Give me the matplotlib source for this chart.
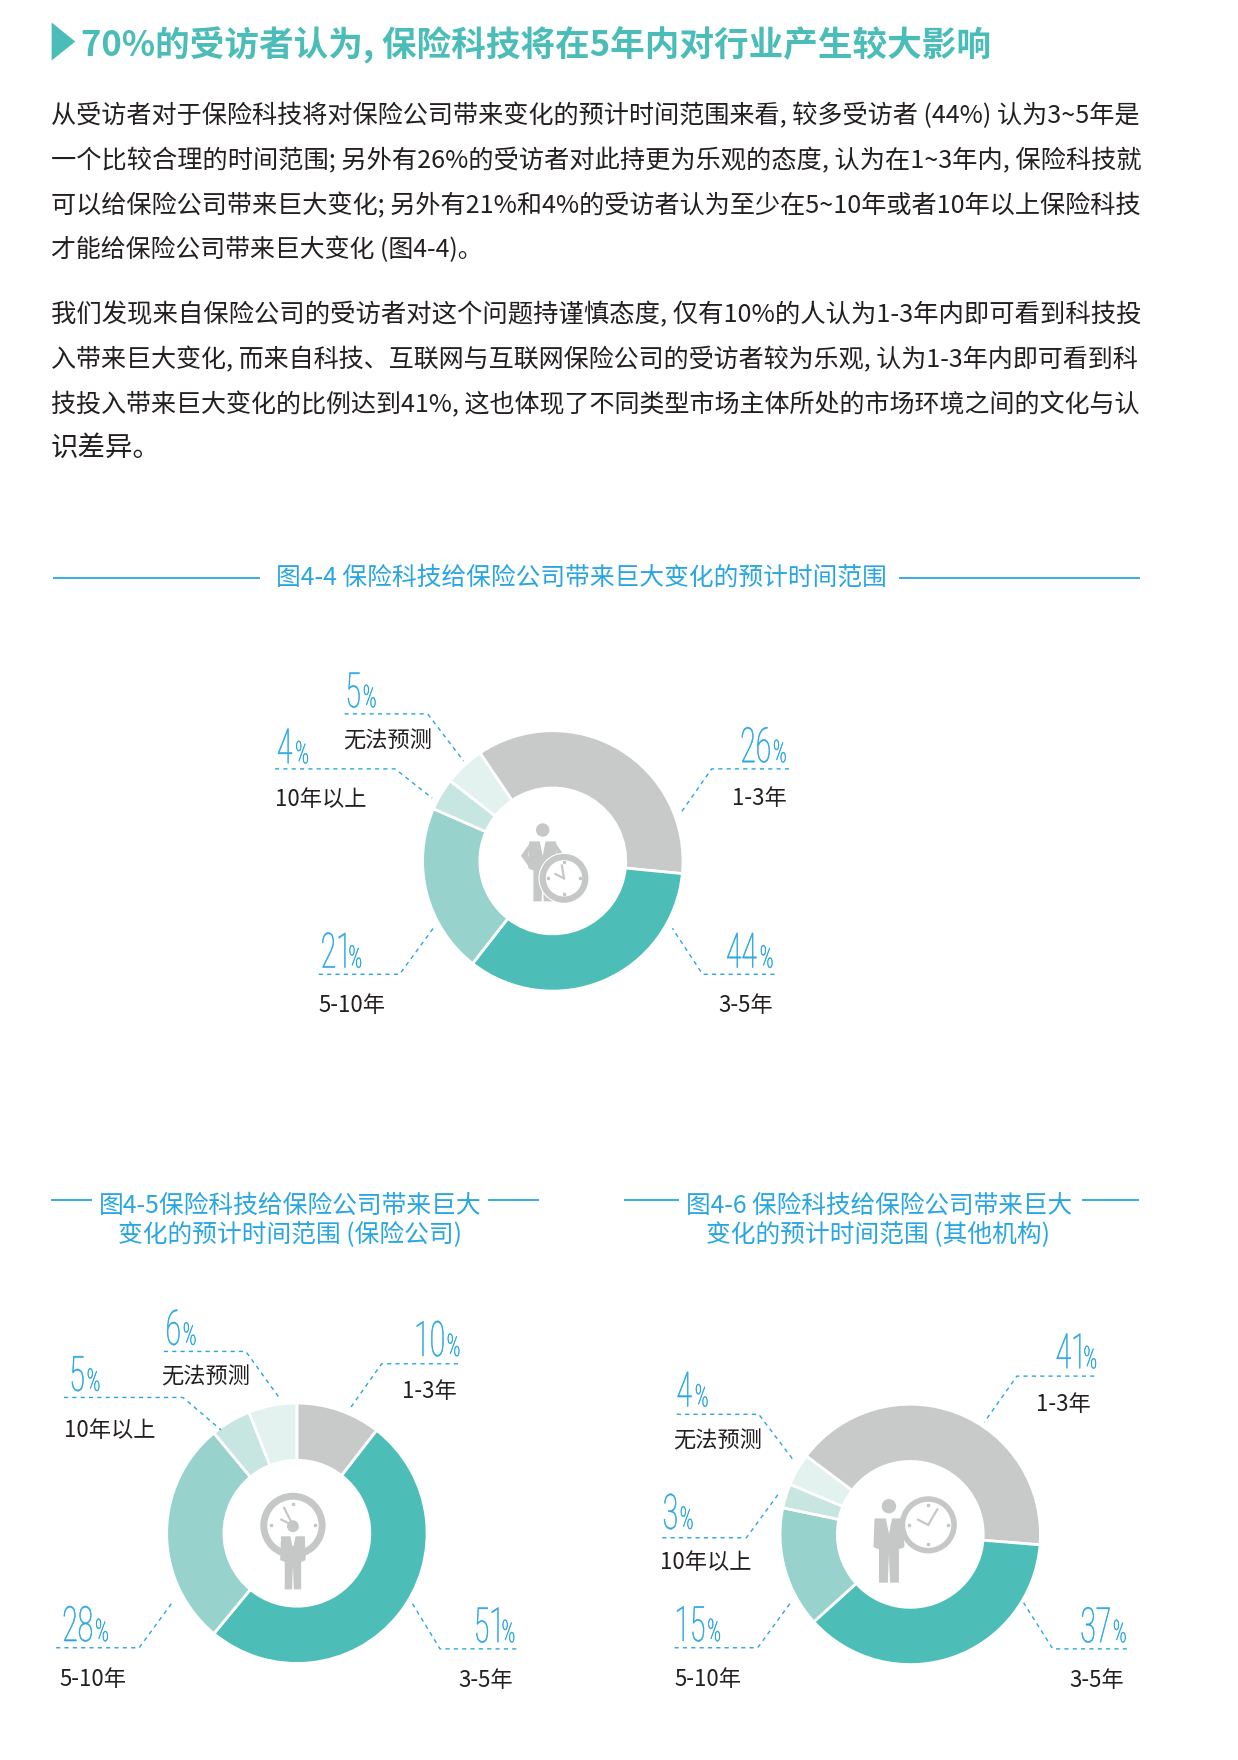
import matplotlib
matplotlib.use('Agg')
import matplotlib.pyplot as plt
from matplotlib.patches import Circle, Polygon, PathPatch
from matplotlib.path import Path
from matplotlib.text import Text
from matplotlib.textpath import TextPath
from matplotlib.transforms import Affine2D

plt.rcParams['font.family'] = ['Noto Sans CJK SC', 'DejaVu Sans']

# colours
TEAL = '#4bbdb8'
BLUE = '#29a6e1'
TEXT = '#231f20'
GRAY = '#c6c8c8'
SLICE_COLORS = ['#c8cac9', '#4dbdb8', '#97d2cd', '#c7e6e2', '#e3f1ef']

# data
categories = ['1-3年', '3-5年', '5-10年', '10年以上', '无法预测']
labels_all = ['26', '44', '21', '4', '5']
labels_ins = ['10', '51', '28', '5', '6']
labels_oth = ['41', '37', '15', '3', '4']
# drawn slice sizes, the first ring is not drawn as its printed numbers say
shares_all = [36, 34, 21, 4, 5]
shares_ins = [10.5, 50.5, 28, 5, 6]
shares_oth = [41, 37, 15, 3, 4]

heading = '70%的受访者认为, 保险科技将在5年内对行业产生较大影响'
body = [
    ('从受访者对于保险科技将对保险公司带来变化的预计时间范围来看, 较多受访者 (44%) 认为3~5年是', 1016, 102),
    ('一个比较合理的时间范围; 另外有26%的受访者对此持更为乐观的态度, 认为在1~3年内, 保险科技就', 1016, 142),
    ('可以给保险公司带来巨大变化; 另外有21%和4%的受访者认为至少在5~10年或者10年以上保险科技', 1016, 182),
    ('才能给保险公司带来巨大变化 (图4-4)。', 430, 221),
    ('我们发现来自保险公司的受访者对这个问题持谨慎态度, 仅有10%的人认为1-3年内即可看到科技投', 1016, 279),
    ('入带来巨大变化, 而来自科技、互联网与互联网保险公司的受访者较为乐观, 认为1-3年内即可看到科', 1016, 319),
    ('技投入带来巨大变化的比例达到41%, 这也体现了不同类型市场主体所处的市场环境之间的文化与认', 1016, 359),
    ('识差异。', 143, 398),
]

W, H = 1103, 1568
fig = plt.figure(figsize=(12.38, 17.6), dpi=100, facecolor='white')


class CondensedPercent(Text):
    # no condensed light font is installed, so squeeze the glyph outlines;
    # the string is like '26%', the sign is set smaller than the digits
    squeeze = 0.58
    sign_ratio = 0.64

    def _outline(self):
        size = self.get_fontsize()
        prop = self.get_fontproperties()
        digits = TextPath((0, 0), self.get_text()[:-1], size=size, prop=prop)
        sign = TextPath((digits.get_extents().x1 + 0.12 * size, 0), '%', size=size * self.sign_ratio, prop=prop)
        return Path.make_compound_path(digits, sign)

    def _to_px(self):
        x, y = self.get_transform().transform(self.get_position())
        k = self.get_figure().dpi / 72
        return Affine2D().scale(self.squeeze * k, k).translate(x, y)

    def get_window_extent(self, renderer=None, dpi=None):
        return self._outline().get_extents(self._to_px())

    def draw(self, renderer):
        patch = PathPatch(self._outline(), transform=self._to_px(), fc=self.get_color(),
                          ec=self.get_color(), lw=0.4)
        patch.set_figure(self.get_figure())
        patch.draw(renderer)


def donut(cx, cy, shares, start, r=116, r_in=65):
    pad = 1.05
    ax = fig.add_axes([(cx - r * pad) / W, 1 - (cy + r * pad) / H, 2 * r * pad / W, 2 * r * pad / H])
    ax.pie(shares, colors=SLICE_COLORS, startangle=start, counterclock=False, radius=1,
           wedgeprops=dict(width=1 - r_in / r, edgecolor='white', linewidth=2))
    ax.set_xlim(-pad, pad)
    ax.set_ylim(-pad, pad)
    ax.axis('off')


donut(492.5, 767, shares_all, 124)
donut(264.5, 1366, shares_ins, 90)
donut(811, 1367, shares_oth, 143)

# page coordinates, same as the reference
pg = fig.add_axes([0, 0, 1, 1], facecolor='none')
pg.set_xlim(0, W)
pg.set_ylim(H, 0)
pg.axis('off')
renderer = fig.canvas.get_renderer()


def fit_text(x0, x1, y, s, color=TEXT, fs=17, **kw):
    t = pg.text(x0, y + 1.5, s, color=color, fontsize=fs, va='center', ha='left', **kw)
    w = t.get_window_extent(renderer).width
    t.set_fontsize(fs * (x1 - x0) * 1238 / W / w)
    return t


def rule(x0, x1, y):
    pg.plot([x0, x1], [y, y], color=BLUE, lw=1.3, solid_capstyle='butt')


def callout(value, cat, pts, num_mid, num_y, cat_x, cat_y):
    xs, ys = zip(*pts)
    pg.plot(xs, ys, color=BLUE, lw=1, ls=(0, (3, 3)))
    t = CondensedPercent(0, num_y, value + '%', color=BLUE, fontsize=35, family='Roboto', fontweight='light')
    pg.add_artist(t)
    # centred where the reference has it
    t.set_x(num_mid - t.get_window_extent().width * W / 1238 / 2)
    pg.text(cat_x, cat_y, cat, color=TEXT, fontsize=16, va='center', ha='left')


def person(x, top, h, akimbo=False):
    u = h / 76
    pg.add_patch(Circle((x, top + 7 * u), 6.5 * u, fc=GRAY, ec='none'))
    pg.add_patch(Polygon([(x - 13 * u, top + 18 * u), (x + 13 * u, top + 18 * u), (x + 14 * u, top + 44 * u),
                          (x + 9 * u, top + 46 * u), (x + 9 * u, top + h), (x + 1 * u, top + h),
                          (x, top + 50 * u), (x - 1 * u, top + h), (x - 9 * u, top + h),
                          (x - 9 * u, top + 46 * u), (x - 14 * u, top + 44 * u)],
                         fc=GRAY, ec='none'))
    pg.add_patch(Polygon([(x - 3 * u, top + 17 * u), (x + 3 * u, top + 17 * u), (x, top + 32 * u)],
                         fc='white', ec='none'))
    if akimbo:
        pg.add_patch(Polygon([(x - 12 * u, top + 19 * u), (x - 21 * u, top + 32 * u), (x - 11 * u, top + 46 * u),
                              (x - 9 * u, top + 40 * u), (x - 14 * u, top + 32 * u)], fc=GRAY, ec='none'))
        pg.add_patch(Polygon([(x + 12 * u, top + 19 * u), (x + 21 * u, top + 32 * u), (x + 11 * u, top + 46 * u),
                              (x + 9 * u, top + 40 * u), (x + 14 * u, top + 32 * u)], fc=GRAY, ec='none'))


def clock(x, y, r, hand=(0.35, -0.6), lw=3.5, halo=True):
    if halo:
        pg.add_patch(Circle((x, y), r * 1.2, fc='white', ec='none'))
    pg.add_patch(Circle((x, y), r, fc='white', ec=GRAY, lw=lw))
    pg.plot([x, x + hand[0] * r], [y, y + hand[1] * r], color=GRAY, lw=1.6)
    pg.plot([x, x - 0.4 * r], [y, y - 0.2 * r], color=GRAY, lw=1.6)
    for dx, dy in [(0, -0.75), (0, 0.75), (0.75, 0), (-0.75, 0)]:
        pg.plot([x + dx * r], [y + dy * r], 's', color=GRAY, ms=1.8)


# heading and body
pg.add_patch(Polygon([(46, 20), (46, 54), (67, 37)], fc=TEAL, ec='none'))
fit_text(72, 883, 39, heading, color=TEAL, fs=23, fontweight='bold')
for line, x1, y in body:
    fit_text(45, x1, y, line)

# figure titles
fit_text(246, 790, 513, '图4-4 保险科技给保险公司带来巨大变化的预计时间范围', color=BLUE)
rule(47, 232, 515)
rule(801, 1016, 515)
fit_text(88, 430, 1073, '图4-5保险科技给保险公司带来巨大', color=BLUE)
fit_text(105, 411, 1098, '变化的预计时间范围 (保险公司)', color=BLUE)
rule(45, 82, 1069)
rule(435, 480, 1069)
fit_text(611, 956, 1073, '图4-6 保险科技给保险公司带来巨大', color=BLUE)
fit_text(629, 935, 1098, '变化的预计时间范围 (其他机构)', color=BLUE)
rule(556, 605, 1069)
rule(964, 1015, 1069)

# figure 4-4 callouts
callout(labels_all[0], categories[0], [(703, 685), (634, 685), (606, 725)], 679, 679, 652, 711)
callout(labels_all[1], categories[1], [(690, 868), (626, 868), (599, 827)], 667, 862, 640, 896)
callout(labels_all[2], categories[2], [(284, 868), (356, 868), (386, 827)], 303, 862, 284, 896)
callout(labels_all[3], categories[3], [(245, 685), (352, 685), (385, 711)], 260, 680, 245, 712)
callout(labels_all[4], categories[4], [(307, 636), (381, 636), (413, 678)], 320, 630, 306, 660)

# figure 4-5 callouts
callout(labels_ins[0], categories[0], [(408, 1215), (340, 1215), (311, 1256)], 388, 1208, 358, 1240)
callout(labels_ins[1], categories[1], [(460, 1469), (392, 1469), (367, 1428)], 439, 1463, 408, 1497)
callout(labels_ins[2], categories[2], [(50, 1468), (124, 1468), (154, 1427)], 75, 1462, 53, 1496)
callout(labels_ins[3], categories[3], [(57, 1245), (163, 1245), (197, 1274)], 74, 1239, 57, 1274)
callout(labels_ins[4], categories[4], [(146, 1204), (219, 1204), (250, 1247)], 160, 1198, 144, 1227)

# figure 4-6 callouts
callout(labels_oth[0], categories[0], [(975, 1226), (906, 1226), (877, 1267)], 958, 1219, 923, 1251)
callout(labels_oth[1], categories[1], [(1004, 1469), (938, 1469), (912, 1428)], 982, 1463, 953, 1497)
callout(labels_oth[2], categories[2], [(601, 1468), (675, 1468), (705, 1427)], 620, 1462, 601, 1496)
callout(labels_oth[3], categories[3], [(590, 1370), (665, 1370), (695, 1329)], 603, 1362, 588, 1392)
callout(labels_oth[4], categories[4], [(603, 1260), (676, 1260), (707, 1301)], 616, 1253, 600, 1284)

# centre icons
person(483.5, 733, 70, akimbo=True)
clock(502.5, 782.5, 19, hand=(-0.1, -0.6), lw=4.5)
clock(261, 1359, 26, hand=(-0.3, -0.6), lw=5, halo=False)
person(261, 1354, 62)
person(792, 1335, 75)
clock(827, 1358.5, 23, lw=4, halo=False)

fig.savefig('out.png', dpi=100)
